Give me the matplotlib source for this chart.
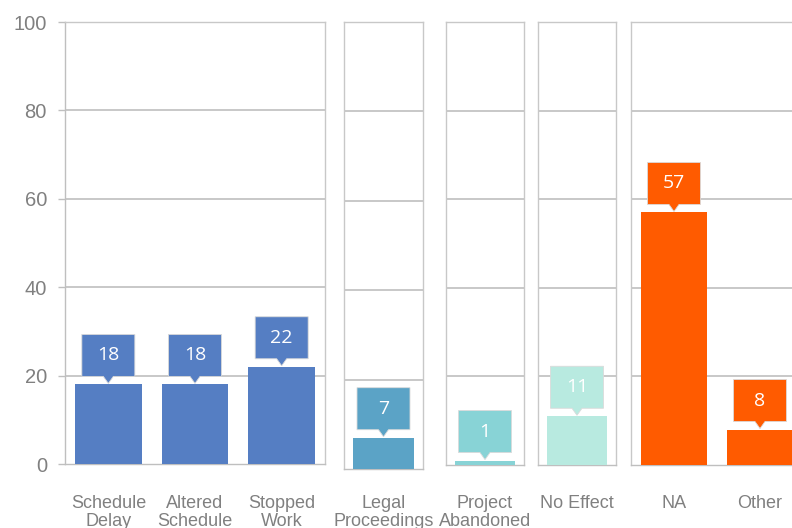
import matplotlib
matplotlib.use("Agg")
import matplotlib.pyplot as plt
from matplotlib.patches import Polygon
from matplotlib.transforms import blended_transform_factory

# ---- data ----
categories = ["Schedule\nDelay", "Altered\nSchedule", "Stopped\nWork",
              "Legal\nProceedings", "Project\nAbandoned", "No Effect",
              "NA", "Other"]
values = [18, 18, 22, 7, 1, 11, 57, 8]
group_sizes = [3, 1, 1, 1, 2]
group_colors = ["#557EC3", "#5BA3C6", "#88D3D6", "#B8EAE0", "#FF5B00"]
y_ticks = [0, 20, 40, 60, 80, 100]

# ---- layout (pixel boxes of the panels: left, right, top, bottom) ----
W, H = 792, 528
panels_px = [(65, 325, 22, 464), (344, 423, 22, 469), (446, 524, 22, 465),
             (538, 616, 22, 465), (631, 803, 22, 465)]

fig = plt.figure(figsize=(W / 100, H / 100), dpi=100)
grid_c = "#BFBFBF"
border_c = "#C8C8C8"
text_c = "#808080"

idx = 0
for gi, (n, color, (l, r, t, b)) in enumerate(zip(group_sizes, group_colors, panels_px)):
    ax = fig.add_axes([l / W, 1 - b / H, (r - l) / W, (b - t) / H])
    ax.set_xlim(-0.5, n - 0.5)
    ax.set_ylim(0, 100)
    for s in ax.spines.values():
        s.set_color(border_c)
        s.set_linewidth(1.0)
    ax.spines["bottom"].set_color(grid_c)
    for yv in y_ticks[1:-1]:
        ax.axhline(yv, color=grid_c, lw=1.2, zorder=1)
    if gi == 0:
        ax.spines["left"].set_color(grid_c)
        ax.set_yticks(y_ticks)
        ax.tick_params(axis="y", length=5, width=1, color=grid_c, pad=8,
                       labelsize=14.5, labelcolor=text_c)
        for lab in ax.get_yticklabels():
            lab.set_fontfamily("Liberation Sans")
    else:
        ax.set_yticks([])
    ax.set_xticks([])

    cats = categories[idx:idx + n]
    vals = values[idx:idx + n]
    xs = list(range(n))
    ax.bar(xs, vals, width=0.77, color=color, zorder=3, linewidth=0)

    pxx = (r - l) / n
    pxy = (b - t) / 100.0
    bw = 53 / pxx
    pw = 10 / pxx
    bh = 42 / pxy
    gap = 8 / pxy
    tip = 1 / pxy
    for x, v in zip(xs, vals):
        y0 = v + gap
        pts = [(x - bw / 2, y0), (x - pw / 2, y0), (x, v + tip), (x + pw / 2, y0),
               (x + bw / 2, y0), (x + bw / 2, y0 + bh), (x - bw / 2, y0 + bh)]
        poly = Polygon(pts, closed=True, facecolor=color, edgecolor="#DADADA",
                       lw=0.6, zorder=4, clip_on=False)
        ax.add_patch(poly)
        ax.text(x, y0 + bh / 2, str(v), ha="center", va="center", color="white",
                fontsize=14, family="Open Sans", zorder=5)

    tr = blended_transform_factory(ax.transData, fig.transFigure)
    for x, c in zip(xs, cats):
        ax.text(x, 1 - 495 / H, c, transform=tr, ha="center", va="top",
                fontsize=13, color=text_c, family="Liberation Sans",
                linespacing=1.05)
    idx += n

fig.savefig("out.png", dpi=100)
